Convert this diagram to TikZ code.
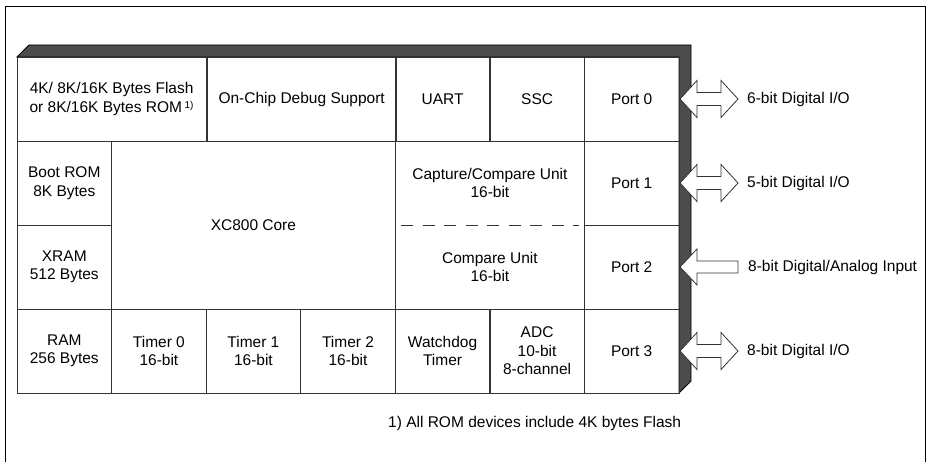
\documentclass[tikz,border=0pt]{standalone}
\usepackage{fontspec}
\setmainfont{Liberation Sans}
\usetikzlibrary{positioning}

\tikzset{
  cell/.style={draw=black!80, line width=0.8pt, minimum width=94.6pt, minimum height=84pt,
    inner sep=0pt, outer sep=0pt, align=center},
  wide/.style={cell, minimum width=189.1pt},
  iolabel/.style={inner sep=0pt},
  blockarrow/.style={draw=black!80, line width=0.8pt, fill=white, line join=miter},
  pics/bidir/.style={code={
    \draw[blockarrow] (0,0) -- (17,-18.5) -- (17,-6.5) -- (41,-6.5) -- (41,-18.5) -- (58,0)
      -- (41,18.5) -- (41,6.5) -- (17,6.5) -- (17,18.5) -- cycle;}},
  pics/inward/.style={code={
    \draw[blockarrow] (0,0) -- (17,-18) -- (17,-6) -- (58,-6) -- (58,6) -- (17,6) -- (17,18) -- cycle;}}
}

\begin{document}
\begin{tikzpicture}[x=1pt, y=-1pt, font=\fontsize{15.5}{18.5}\selectfont]
    \useasboundingbox (0,0) rectangle (927,462);
    % page frame
    \draw[line width=0.8pt] (5,462) -- (5,6) -- (925,6) -- (925,462);

    % chip body with shaded top and right edge
    \draw[line width=0.8pt, fill=black!70] (17,57) -- (29,45) -- (691,45) -- (691,381)
        -- (679,393) -- (679,57) -- cycle;

    % first row
    \node[wide] (flash) at (111.6,99) {4K/ 8K/16K Bytes Flash\\or 8K/16K Bytes ROM\,\raisebox{4pt}{\fontsize{10}{10}\selectfont 1)}};
    \node[wide] (ocds) at (301.7,99) {On-Chip Debug Support};
    \node[cell] (uart) at (442.6,99) {UART};
    \node[cell] (ssc) at (537.1,99) {SSC};
    \node[cell] (p0) at (631.7,99) {Port 0};

    % middle rows
    \node[cell] (boot) at (64.3,183) {Boot ROM\\8K Bytes};
    \node[cell] (xram) at (64.3,267) {XRAM\\512 Bytes};
    \node[cell, minimum width=283.7pt, minimum height=168pt] (core) at (253.4,225) {XC800 Core};
    \node[wide, minimum height=168pt] (capcom) at (489.9,225) {};
    \node[align=center] (ccu) at (489.9,183) {Capture/Compare Unit\\16-bit};
    \node[align=center] (cmp) at (489.9,267) {Compare Unit\\16-bit};
    \draw[black!80, line width=0.8pt, dash pattern=on 12pt off 9.5pt]
        ([xshift=6pt]capcom.west) -- ([xshift=-5pt]capcom.east);
    \node[cell] (p1) at (631.7,183) {Port 1};
    \node[cell] (p2) at (631.7,267) {Port 2};

    % last row
    \node[cell] (ram) at (64.3,351) {RAM\\256 Bytes};
    \node[cell] (t0) at (158.9,351) {Timer 0\\16-bit};
    \node[cell] (t1) at (253.4,351) {Timer 1\\16-bit};
    \node[cell] (t2) at (348.0,351) {Timer 2\\16-bit};
    \node[cell] (wdt) at (442.6,351) {Watchdog\\Timer};
    \node[cell] (adc) at (537.1,351) {ADC\\10-bit\\8-channel};
    \node[cell] (p3) at (631.7,351) {Port 3};

    % port pins
    \node[iolabel, right=68pt of p0] (io0) {6-bit Digital I/O};
    \node[iolabel, right=68pt of p1] (io1) {5-bit Digital I/O};
    \node[iolabel, right=69pt of p2] (ain) {8-bit Digital/Analog Input};
    \node[iolabel, right=68pt of p3] (io3) {8-bit Digital I/O};
    \pic at ([xshift=1pt]p0.east) {bidir};
    \pic at ([xshift=1pt]p1.east) {bidir};
    \pic at ([xshift=1pt]p2.east) {inward};
    \pic at ([xshift=1pt]p3.east) {bidir};

    \node[anchor=west, inner sep=0pt] (note) at (388,423) {1) All ROM devices include 4K bytes Flash};
\end{tikzpicture}
\end{document}
